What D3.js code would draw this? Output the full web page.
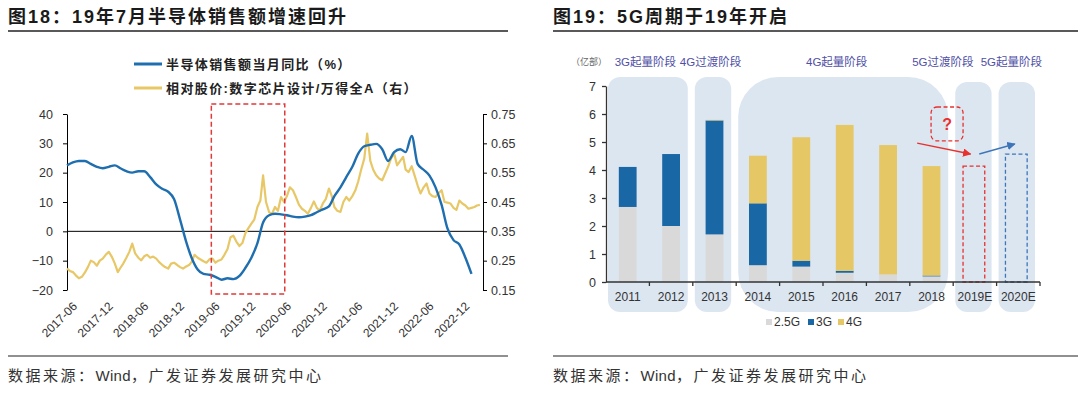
<!DOCTYPE html>
<html>
<head>
<meta charset="utf-8">
<script src="https://cdn.jsdelivr.net/npm/d3@7"></script>
<style>
  body { margin: 0; background: #fff; }
  text { font-family: "Liberation Sans", Arial, "Noto Sans CJK SC", sans-serif; }
</style>
</head>
<body>
<svg id="chart" width="1080" height="394"></svg>
<script>
// small stand-in for d3-selection-multi's attrs()
d3.selection.prototype.attrs = function(obj) {
  Object.entries(obj).forEach(([k, v]) => this.attr(k, v));
  return this;
};

// ---- left chart data: semiconductor sales yoy (%), monthly from 2017-06
const salesYoy = [22.5, 23.5, 24, 24, 23, 22, 21.5, 22, 22.5, 21.5, 20.5, 20,
  20.5, 20.5, 18.5, 16, 14.5, 13.5, 11, 4, -3.5, -9, -13, -14.5,
  -14.8, -15.5, -16.5, -16, -16.3, -15.2, -12.5, -9, -4, 3, 5.5, 6,
  5.8, 5.5, 5, 4.8, 5, 5.5, 6.5, 7.5, 8.5, 12, 15, 18.5,
  22, 26.5, 29, 29.5, 29.8, 28, 24, 27, 28, 27, 32.5, 23,
  21, 19, 15, 9, 1, -3, -4.5, -9, -14.5];

// relative price: digital chip design / wind all A, half-monthly from 2017-06
const relPrice = [0.223, 0.215, 0.211, 0.200, 0.190, 0.195, 0.210, 0.228, 0.250, 0.245,
  0.233, 0.250, 0.257, 0.270, 0.280, 0.264, 0.240, 0.211, 0.225, 0.240,
  0.260, 0.280, 0.308, 0.275, 0.260, 0.251, 0.265, 0.270, 0.260, 0.264,
  0.257, 0.245, 0.236, 0.228, 0.223, 0.240, 0.243, 0.236, 0.228, 0.223,
  0.230, 0.235, 0.246, 0.270, 0.260, 0.254, 0.248, 0.243, 0.255, 0.257,
  0.243, 0.250, 0.254, 0.270, 0.290, 0.330, 0.335, 0.315, 0.300, 0.310,
  0.343, 0.360, 0.376, 0.390, 0.433, 0.455, 0.541, 0.450, 0.415, 0.410,
  0.433, 0.420, 0.467, 0.450, 0.470, 0.500, 0.490, 0.467, 0.440, 0.427,
  0.420, 0.410, 0.430, 0.452, 0.430, 0.420, 0.445, 0.460, 0.496, 0.470,
  0.433, 0.420, 0.416, 0.450, 0.467, 0.455, 0.470, 0.489, 0.520, 0.560,
  0.598, 0.683, 0.590, 0.560, 0.541, 0.530, 0.524, 0.547, 0.570, 0.598,
  0.615, 0.575, 0.590, 0.604, 0.560, 0.552, 0.572, 0.540, 0.507, 0.479,
  0.500, 0.513, 0.479, 0.470, 0.467, 0.480, 0.490, 0.450, 0.448, 0.445,
  0.430, 0.423, 0.455, 0.445, 0.438, 0.427, 0.430, 0.433, 0.438, 0.440];

const leftTicks = [-20, -10, 0, 10, 20, 30, 40];
const rightTicks = [0.15, 0.25, 0.35, 0.45, 0.55, 0.65, 0.75];
const dateTicks = ["2017-06", "2017-12", "2018-06", "2018-12", "2019-06", "2019-12",
  "2020-06", "2020-12", "2021-06", "2021-12", "2022-06", "2022-12"];
const focusWindow = ["2019-06-10", "2020-06-20"];

// ---- right chart data: phone shipments (亿部)
const years = ["2011", "2012", "2013", "2014", "2015", "2016", "2017", "2018", "2019E", "2020E"];
const ship25G = [2.68, 2.0, 1.7, 0.6, 0.55, 0.33, 0.27, 0.2, 0, 0];
const ship3G = [1.43, 2.57, 4.07, 2.21, 0.21, 0.07, 0, 0.03, 0, 0];
const ship4G = [0, 0, 0.02, 1.7, 4.41, 5.21, 4.62, 3.91, 0, 0];
const estYears = ["2019E", "2020E"];
const estValues = [4.14, 4.57];
const phaseNames = ["3G起量阶段", "4G过渡阶段", "4G起量阶段", "5G过渡阶段", "5G起量阶段"];
const phaseFrom = ["2011", "2013", "2014", "2019E", "2020E"];
const phaseTo = ["2012", "2013", "2018", "2019E", "2020E"];
const seriesNames = ["2.5G", "3G", "4G"];

const svg = d3.select("#chart");
const parseM = d3.timeParse("%Y-%m");
const parseD = d3.timeParse("%Y-%m-%d");

// headers & footers
function frame(x0, x1, title) {
  svg.append("text").attr("x", x0).attr("y", 23).text(title)
    .attrs({"font-size": 18, "font-weight": "bold", fill: "#1a1a1a", "letter-spacing": 2});
  svg.append("line").attrs({x1: x0, x2: x1, y1: 31, y2: 31, stroke: "#222", "stroke-width": 1.5});
  svg.append("line").attrs({x1: x0, x2: x1, y1: 356, y2: 356, stroke: "#222", "stroke-width": 1.2});
  const src = svg.append("text").attr("x", x0).attr("y", 381).attrs({"font-size": 15, fill: "#333"});
  [["数据来源：", 2.5], ["Wind", 0.3], ["，广发证券发展研究中心", 2.5]].forEach(p => {
    src.append("tspan").attr("letter-spacing", p[1]).text(p[0]);
  });
}
frame(8, 508, "图18：19年7月半导体销售额增速回升");
frame(553, 1078, "图19：5G周期于19年开启");

// ================= left chart =================
const x = d3.scaleTime().domain([parseM("2017-06"), parseM("2023-04")]).range([67, 483]);
const yL = d3.scaleLinear().domain([-20, 40]).range([290, 114]);
const yR = d3.scaleLinear().domain([0.15, 0.75]).range([290, 114]);

const left = svg.append("g");

const legend = [["半导体销售额当月同比（%）", "#1f6eaf"], ["相对股价:数字芯片设计/万得全A（右）", "#e8c766"]];
legend.forEach((d, i) => {
  left.append("line").attrs({x1: 134, x2: 162, y1: 64 + i * 24, y2: 64 + i * 24, stroke: d[1], "stroke-width": 3});
  left.append("text").attr("x", 166).attr("y", 69 + i * 24).text(d[0])
    .attrs({"font-size": 13, "font-weight": "bold", fill: "#222", "letter-spacing": 1.4});
});

left.append("g").attr("transform", "translate(67,0)")
  .call(d3.axisLeft(yL).tickValues(leftTicks).tickSize(4).tickSizeOuter(0).tickPadding(10))
  .call(g => g.selectAll("text").attrs({"font-size": 12.5, fill: "#333"}));
left.append("g").attr("transform", "translate(483,0)")
  .call(d3.axisRight(yR).tickValues(rightTicks).tickSize(4).tickSizeOuter(0).tickPadding(4)
    .tickFormat(d3.format(".2f")))
  .call(g => g.selectAll("text").attrs({"font-size": 12.5, fill: "#333"}));

left.append("line").attrs({x1: 67, x2: 483, y1: yL(0), y2: yL(0), stroke: "#000", "stroke-width": 1});

const yellowLine = d3.line()
  .x((d, i) => x(new Date(2017, 5 + Math.floor(i / 2), i % 2 ? 16 : 1)))
  .y(d => yR(d));
left.append("path").datum(relPrice)
  .attrs({d: yellowLine, fill: "none", stroke: "#e8c766", "stroke-width": 2.2, "stroke-linejoin": "round"});

const blueLine = d3.line().curve(d3.curveMonotoneX)
  .x((d, i) => x(new Date(2017, 5 + i, 1)))
  .y(d => yL(d));
left.append("path").datum(salesYoy)
  .attrs({d: blueLine, fill: "none", stroke: "#1f6eaf", "stroke-width": 2.4, "stroke-linejoin": "round"});

left.selectAll("text.xt").data(dateTicks).enter().append("text")
  .attr("class", "xt")
  .attr("transform", d => `translate(${x(parseM(d)) + 5},${301}) rotate(-45)`)
  .attrs({"text-anchor": "end", "font-size": 12, fill: "#333", dy: "0.7em"})
  .text(d => d);

left.append("rect")
  .attrs({x: x(parseD(focusWindow[0])), y: 104,
    width: x(parseD(focusWindow[1])) - x(parseD(focusWindow[0])), height: 190,
    fill: "none", stroke: "#e03a3a", "stroke-width": 1.5, "stroke-dasharray": "5,3"});

// ================= right chart =================
const xb = d3.scaleBand().domain(years).range([606, 1040]).padding(0);
const step = xb.step();
const barW = step * 0.41;
const yB = d3.scaleLinear().domain([0, 7]).range([282, 86]);
const right = svg.append("g");

// phase backgrounds
phaseNames.forEach((name, i) => {
  const x0 = xb(phaseFrom[i]) + 2, x1 = xb(phaseTo[i]) + step - 5;
  const big = i === 2;
  right.append("rect")
    .attrs({x: x0, y: i < 3 ? 77 : 82, width: x1 - x0, height: i < 3 ? 235 : 230,
      rx: big ? 40 : 12, fill: "#dce6f1"});
});
const phaseShift = [-4, -4, -8, -32, -7];
phaseNames.forEach((name, i) => {
  const cx = (xb(phaseFrom[i]) + xb(phaseTo[i]) + step) / 2 + phaseShift[i];
  right.append("text").attr("x", cx).attr("y", 66).text(name)
    .attrs({"text-anchor": "middle", "font-size": 11.5, fill: "#4f4fa6"});
});
right.append("text").attr("x", 589).attr("y", 65).text("（亿部）")
  .attrs({"text-anchor": "middle", "font-size": 9, fill: "#666"});

// stacked bars
const rows = years.map((y, i) => ({year: y, s25: ship25G[i], s3: ship3G[i], s4: ship4G[i]}));
const stack = d3.stack().keys(["s25", "s3", "s4"])(rows);
const barColors = ["#d9d9d9", "#1a67a6", "#e6c765"];
stack.forEach((layer, k) => {
  right.append("g").selectAll("rect").data(layer.filter(d => d[1] > d[0])).enter().append("rect")
    .attrs({
      x: d => xb(d.data.year) + (step - barW) / 2,
      y: d => yB(d[1]),
      width: barW,
      height: d => yB(d[0]) - yB(d[1]),
      fill: barColors[k]
    });
});

// estimated outline bars
const estColors = ["#e8312f", "#3d76b8"];
estYears.forEach((yr, i) => {
  const w = step * 0.5;
  right.append("rect")
    .attrs({x: xb(yr) + (step - w) / 2 - (i === 0 ? 1 : 2), y: yB(estValues[i]), width: w,
      height: yB(0) - yB(estValues[i]), fill: "none", stroke: estColors[i],
      "stroke-width": 1.3, "stroke-dasharray": "4,2.5"});
});

// arrows and question mark
const defs = svg.append("defs");
estColors.forEach((c, i) => {
  defs.append("marker").attrs({id: "ah" + i, viewBox: "0 0 10 10", refX: 9, refY: 5,
      markerWidth: 6, markerHeight: 6, orient: "auto"})
    .append("path").attrs({d: "M0,0 L10,5 L0,10 z", fill: c});
});
right.append("line").attrs({x1: xb("2018") + 0.17 * step, y1: yB(4.96), x2: xb("2019E") + 0.4 * step, y2: yB(4.57),
  stroke: estColors[0], "stroke-width": 1.4, "marker-end": "url(#ah0)"});
right.append("line").attrs({x1: xb("2019E") + 0.6 * step, y1: yB(4.57), x2: xb("2020E") + 0.42 * step, y2: yB(4.93),
  stroke: estColors[1], "stroke-width": 1.4, "marker-end": "url(#ah1)"});
right.append("rect").attrs({x: xb("2018") + 0.49 * step, y: yB(6.25), width: 32, height: yB(5.04) - yB(6.25),
  rx: 6, fill: "none", stroke: estColors[0], "stroke-width": 1.3, "stroke-dasharray": "4,2.5"});
right.append("text").attrs({x: xb("2018") + 0.49 * step + 16, y: yB(5.65) + 6, "text-anchor": "middle",
  "font-size": 16, "font-weight": "bold", fill: estColors[0]}).text("?");

// axes
right.append("g").attr("transform", "translate(606,0)")
  .call(d3.axisLeft(yB).tickValues(d3.range(0, 8)).tickSize(4).tickSizeOuter(0).tickPadding(6)
    .tickFormat(d3.format("d")))
  .call(g => g.selectAll("text").attrs({"font-size": 12.5, fill: "#333"}))
  .call(g => g.selectAll("path,line").attrs({stroke: "#333", "stroke-width": 1.3}));
right.append("line").attrs({x1: 606, x2: 1040, y1: yB(0), y2: yB(0), stroke: "#333", "stroke-width": 1.6});
right.selectAll("line.bt").data(years).enter().append("line")
  .attrs({class: "bt", x1: d => xb(d) + step, x2: d => xb(d) + step, y1: yB(0), y2: yB(0) + 4,
    stroke: "#333", "stroke-width": 1.3});
right.selectAll("text.yl").data(years).enter().append("text")
  .attrs({class: "yl", x: d => xb(d) + step / 2, y: 301, "text-anchor": "middle", "font-size": 12, fill: "#333"})
  .text(d => d);

// legend
const lg = right.append("g").attr("transform", "translate(766,326)");
let off = 0;
seriesNames.forEach((n, i) => {
  lg.append("rect").attrs({x: off, y: -7, width: 6, height: 6, fill: barColors[i]});
  lg.append("text").attrs({x: off + 8, y: 0, "font-size": 12, fill: "#333"}).text(n);
  off += n.length * 6 + 18;
});
</script>
</body>
</html>
